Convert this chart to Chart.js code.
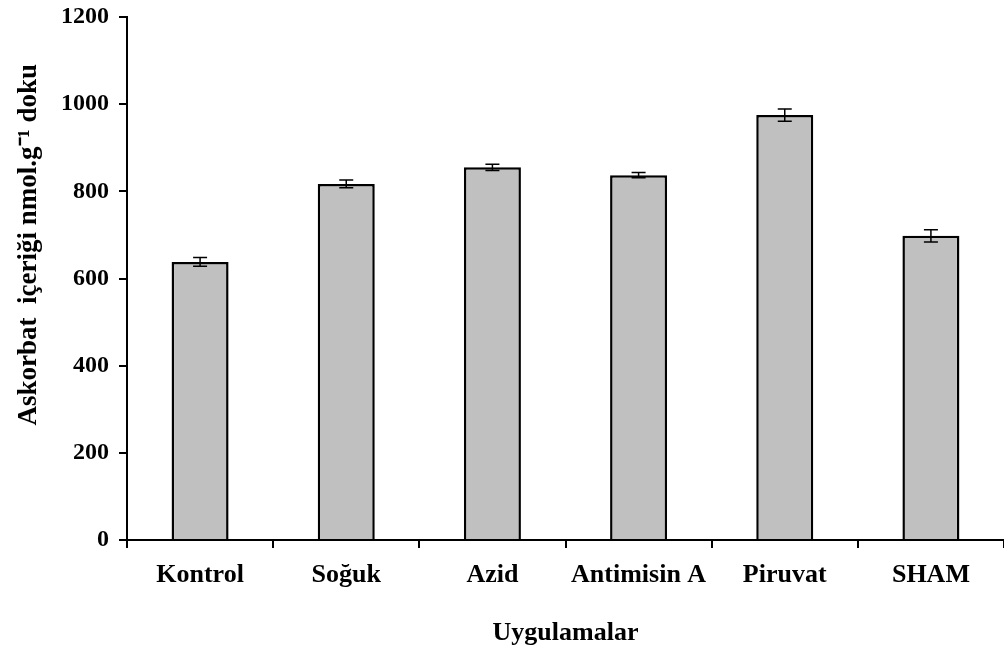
<!DOCTYPE html>
<html>
<head>
<meta charset="utf-8">
<script src="https://cdn.jsdelivr.net/npm/chart.js@4"></script>
<style>
  html, body { margin: 0; padding: 0; background: #fff; }
  #wrap { width: 1004px; height: 646px; }
</style>
</head>
<body>
<div id="wrap"><canvas id="chart"></canvas></div>
<script>
// Askorbat data per treatment
const categories = ['Kontrol', 'Soğuk', 'Azid', 'Antimisin A', 'Piruvat', 'SHAM'];
const values = [638, 817, 855, 837, 975, 698];
const errors = [10, 9, 7, 6, 14, 14];
const yTicks = [0, 200, 400, 600, 800, 1000, 1200];

const FONT = '"Liberation Serif", "Times New Roman", serif';

// draw the error bars from the scales
const errorBars = {
    id: 'errorBars',
    afterDatasetsDraw(chart) {
        const ctx = chart.ctx;
        const x = chart.scales.x;
        const y = chart.scales.y;
        ctx.save();
        ctx.strokeStyle = '#000';
        ctx.lineWidth = 1.5;
        values.forEach((v, i) => {
            const cx = x.getPixelForValue(i);
            const top = y.getPixelForValue(v + errors[i]);
            const bot = y.getPixelForValue(v - errors[i]);
            ctx.beginPath();
            ctx.moveTo(cx, top); ctx.lineTo(cx, bot);
            ctx.moveTo(cx - 7, top); ctx.lineTo(cx + 7, top);
            ctx.moveTo(cx - 7, bot); ctx.lineTo(cx + 7, bot);
            ctx.stroke();
        });
        ctx.restore();
    }
};

const ctx = document.getElementById('chart').getContext('2d');
new Chart(ctx, {
    type: 'bar',
    data: {
        labels: categories,
        datasets: [{
            data: values,
            backgroundColor: '#c0c0c0',
            borderColor: '#000',
            borderWidth: 2.5,
            categoryPercentage: 1,
            barPercentage: 0.39,
        }],
    },
    options: {
        responsive: true,
        maintainAspectRatio: false,
        animation: false,
        layout: { padding: { top: 17, right: 0, left: 0, bottom: 0 } },
        plugins: {
            legend: { display: false },
            tooltip: { enabled: false },
        },
        scales: {
            x: {
                grid: {
                    display: true,
                    drawOnChartArea: false,
                    drawTicks: true,
                    tickLength: 8,
                    color: '#000',
                    lineWidth: 2,
                    offset: true,
                },
                border: { color: '#000', width: 2 },
                ticks: {
                    color: '#000',
                    padding: 12,
                    maxRotation: 0,
                    font: { family: FONT, size: 26, weight: 'bold' },
                },
                title: {
                    display: true,
                    text: 'Uygulamalar',
                    color: '#000',
                    padding: { top: 19, bottom: -3 },
                    font: { family: FONT, size: 26, weight: 'bold' },
                },
                afterFit(scale) {
                    scale.height = 106;
                    scale.paddingLeft = 0;
                    scale.paddingRight = 0;
                },
            },
            y: {
                min: 0,
                max: 1200,
                afterBuildTicks(scale) { scale.ticks = yTicks.map(v => ({ value: v })); },
                grid: {
                    display: true,
                    drawOnChartArea: false,
                    drawTicks: true,
                    tickLength: 8,
                    color: '#000',
                    lineWidth: 2,
                },
                border: { color: '#000', width: 2 },
                ticks: {
                    color: '#000',
                    padding: 10,
                    callback: v => String(v),
                    font: { family: FONT, size: 24, weight: 'bold' },
                },
                title: {
                    display: true,
                    // leading spaces lift the title a little above the axis middle, as in the original
                    text: '\u00a0\u00a0\u00a0\u00a0\u00a0\u00a0\u00a0\u00a0\u00a0\u00a0Askorbat  içeriği nmol.g⁻¹ doku',
                    color: '#000',
                    padding: { top: 13, bottom: 0 },
                    font: { family: FONT, size: 27, weight: 'bold' },
                },
                afterFit(scale) {
                    scale.width = 127;
                    scale.paddingTop = 0;
                    scale.paddingBottom = 0;
                },
            },
        },
    },
    plugins: [errorBars],
});
</script>
</body>
</html>
